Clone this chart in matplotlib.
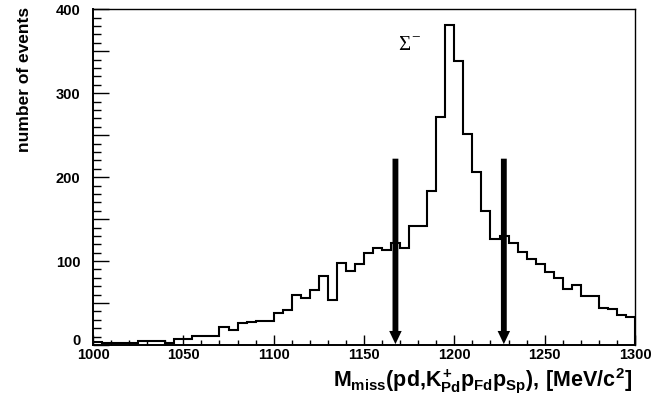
import matplotlib
matplotlib.use('Agg')
import matplotlib.pyplot as plt  # type: ignore[import]
import matplotlib.transforms as mtransforms  # type: ignore[import]
import numpy as np  # type: ignore[import]
from matplotlib.ticker import MultipleLocator, FuncFormatter  # type: ignore[import]

# missing mass histogram, 5 MeV bins from 1000 to 1300
bin_lo = 1000.
bin_hi = 1300.
counts = [4, 2, 2, 2, 2, 5, 5, 5, 2, 7,
          7, 11, 11, 11, 21, 18, 26, 27, 29, 29,
          38, 42, 60, 56, 66, 82, 54, 98, 88, 96,
          110, 116, 113, 122, 115, 142, 142, 184, 272, 381,
          338, 252, 206, 160, 126, 130, 121, 111, 103, 96,
          87, 80, 67, 71, 58, 58, 44, 43, 36, 33]

# cut arrows around the Sigma- peak
cut_x = [1167.4, 1227.4]
cut_top = 222.
cut_tip = 1.

peak_label_xy = (1169., 357.)

xlabel = r'$M_{miss}(pd{,}K^{+}_{Pd}p_{Fd}p_{Sp}){,}\ [MeV/c^{2}]$'
ylabel = 'number of events'

plt.rcParams['font.family'] = ['Liberation Sans', 'DejaVu Sans']
plt.rcParams['font.weight'] = 'bold'
plt.rcParams['mathtext.fontset'] = 'custom'
plt.rcParams['mathtext.rm'] = 'Liberation Sans:bold'
plt.rcParams['mathtext.it'] = 'Liberation Sans:bold'
plt.rcParams['mathtext.bf'] = 'Liberation Sans:bold'

fig = plt.figure(figsize=(6.71, 3.98), dpi=100)
ax = fig.add_axes([93 / 671, 53 / 398, 542 / 671, 335.7 / 398])

edges = np.linspace(bin_lo, bin_hi, len(counts) + 1)
ax.stairs(counts, edges, color='black', linewidth=1.5)

for x in cut_x:
    ax.annotate('', xy=(x, cut_tip), xytext=(x, cut_top),
                arrowprops=dict(arrowstyle='simple,head_width=0.9,'
                                'head_length=0.95,tail_width=0.42',
                                mutation_scale=10, fc='black', lw=0,
                                shrinkA=0, shrinkB=0))

# serif sigma with a small raised minus, as in the original plot
ax.text(*peak_label_xy, 'Σ', fontsize=15, ha='left', va='center',
        family='Liberation Serif', fontweight='normal')
ax.annotate('\u2212', xy=peak_label_xy, xytext=(9.5, 6.5),
            textcoords='offset points', fontsize=11, ha='left',
            va='center', family='Liberation Serif', fontweight='normal')

ax.set_xlim(bin_lo, bin_hi)
ax.set_ylim(0, 400)

ax.xaxis.set_major_locator(MultipleLocator(50))
ax.xaxis.set_minor_locator(MultipleLocator(10))
ax.yaxis.set_major_locator(MultipleLocator(50))
ax.yaxis.set_minor_locator(MultipleLocator(10))
ax.yaxis.set_major_formatter(
    FuncFormatter(lambda v, p: '%d' % v if v % 100 == 0 else ''))

ax.tick_params(axis='x', which='major', direction='in', length=7,
               width=1, labelsize=10.5, pad=2)
ax.tick_params(axis='x', which='minor', direction='in', length=3.5,
               width=1)
ax.tick_params(axis='y', which='major', direction='in', length=11.5,
               width=1, labelsize=10.5, pad=9)
ax.tick_params(axis='y', which='minor', direction='in', length=5.8,
               width=1)
fig.canvas.draw()
for lab in ax.get_xticklabels() + ax.get_yticklabels():
    lab.set_fontweight('bold')
# the zero label sits a little above the axis
for lab in ax.get_yticklabels():
    if lab.get_text() == '0':
        lab.set_transform(lab.get_transform() + mtransforms.ScaledTranslation(
            0, 4 / 72, fig.dpi_scale_trans))

for side in ['left', 'bottom']:
    ax.spines[side].set_linewidth(1.4)
for side in ['top', 'right']:
    ax.spines[side].set_linewidth(1.0)

fig.text(25 / 671, 1 - 7 / 398, ylabel, rotation=90, ha='center',
         va='top', fontsize=12.5, fontweight='bold')
fig.text(632 / 671, 1 - 380 / 398, xlabel, ha='right', va='center',
         fontsize=15.5)

fig.savefig('out.png', dpi=100)
